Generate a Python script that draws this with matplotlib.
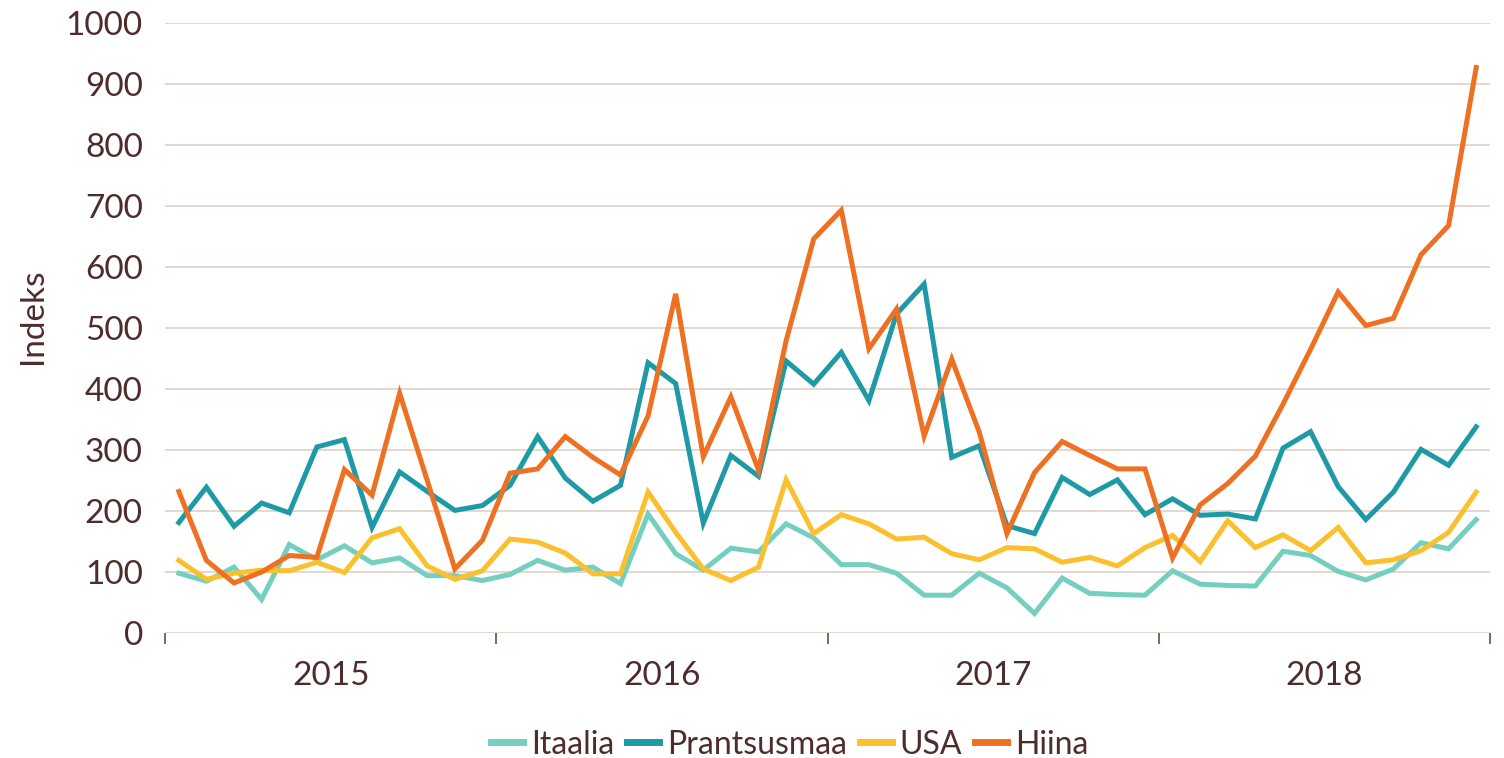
import numpy as np
import matplotlib
matplotlib.use("Agg")
import matplotlib.pyplot as plt

# monthly index values, Jan 2015 .. Dec 2018
years = ["2015", "2016", "2017", "2018"]

itaalia = [98, 85, 108, 55, 145, 120, 143, 115, 123, 94, 94, 86,
           96, 119, 103, 108, 81, 195, 130, 103, 139, 133, 179, 156,
           112, 112, 98, 62, 62, 98, 74, 32, 90, 65, 63, 62,
           102, 80, 78, 77, 134, 127, 101, 87, 105, 148, 138, 186]

prantsusmaa = [181, 239, 175, 213, 197, 305, 317, 173, 264, 232, 201, 209,
               242, 322, 254, 216, 242, 443, 409, 180, 291, 257, 446, 408,
               460, 381, 523, 572, 288, 307, 176, 163, 255, 227, 251, 194,
               220, 193, 195, 187, 303, 330, 240, 186, 231, 301, 275, 338]

usa = [119, 88, 98, 103, 102, 116, 99, 156, 171, 110, 88, 102,
       154, 149, 131, 97, 97, 231, 165, 105, 86, 108, 251, 163,
       194, 179, 154, 157, 130, 120, 140, 138, 116, 124, 110, 140,
       160, 117, 184, 140, 161, 135, 173, 115, 120, 135, 165, 231]

hiina = [232, 119, 82, 100, 127, 124, 268, 226, 393, 250, 105, 152,
         262, 269, 322, 288, 259, 356, 556, 289, 387, 267, 479, 646,
         693, 466, 531, 323, 449, 329, 163, 263, 314, 291, 269, 269,
         123, 210, 245, 290, 375, 465, 559, 504, 516, 620, 668, 927]

series = [("Itaalia", itaalia, "#74cfc0"),
          ("Prantsusmaa", prantsusmaa, "#1e9aa6"),
          ("USA", usa, "#fbc02d"),
          ("Hiina", hiina, "#ee7023")]

txt = "#4f2c2c"
grid = "#e3d4ca"

plt.rcParams['font.family'] = ['Lato', 'DejaVu Sans']

fig = plt.figure(figsize=(15.04, 7.58), dpi=100)
ax = fig.add_axes([165/1504, 1 - 633/758, 1325/1504, 610/758])

months = np.arange(len(hiina))
for name, vals, col in series:
    ax.plot(months, vals, color=col, lw=3.6, label=name, solid_joinstyle="miter")

ax.set_xlim(-0.5, len(hiina) - 0.5)
ax.set_ylim(0, 1000)
ax.set_yticks(np.arange(0, 1001, 100))
ax.yaxis.grid(True, color=grid, lw=1.3)
ax.set_axisbelow(True)
for s in ax.spines.values():
    s.set_visible(False)
ax.tick_params(axis="y", length=0, pad=16, labelsize=24, labelcolor=txt)

# year boundaries as ticks, year names centered in between
ax.set_xticks([-0.5 + 12 * k for k in range(len(years) + 1)])
ax.set_xticklabels([])
ax.tick_params(axis="x", length=8, width=1.2, color="#6b4a4a")
ax.set_xticks([5.5 + 12 * k for k in range(len(years))], minor=True)
ax.set_xticklabels(years, minor=True)
ax.tick_params(axis="x", which="minor", length=0, pad=20, labelsize=24, labelcolor=txt)

ax.set_ylabel("Indeks", fontsize=24, color=txt)
ax.yaxis.set_label_coords(-0.088, 0.52)

leg = fig.legend(loc="lower center", bbox_to_anchor=(0.525, -0.04), ncol=4,
                 frameon=False, fontsize=23, handlelength=1.0,
                 handletextpad=0.25, columnspacing=0.4)
for t in leg.get_texts():
    t.set_color(txt)
for h in leg.get_lines():
    h.set_linewidth(5)

fig.savefig("out.png", dpi=100)
